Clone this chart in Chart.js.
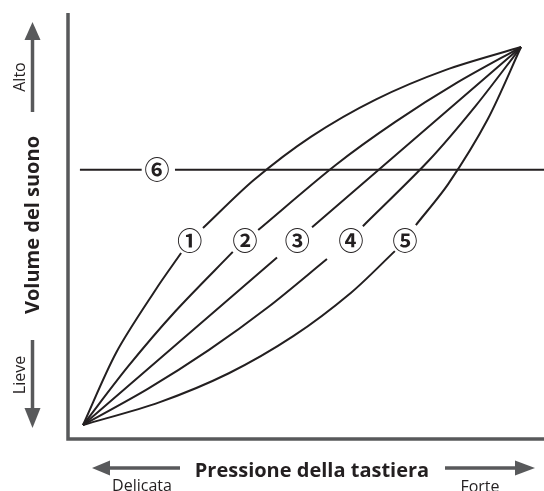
<!DOCTYPE html>
<html>
<head>
<meta charset="utf-8">
<script src="https://cdn.jsdelivr.net/npm/chart.js@4.4.1/dist/chart.umd.min.js"></script>
<style>
  html, body { margin: 0; padding: 0; background: #ffffff; }
  #wrap { width: 544px; height: 491px; }
</style>
</head>
<body>
<div id="wrap"><canvas id="curveChart" width="544" height="491"></canvas></div>
<script>
/***************** DATA *****************/
// pressione (x) / volume (y), 0..100 ; null = gap for the number label
const curva1X = [0, 7.6, 16.7, 22.4, 25.0, 27.4, 39.0, 52.1, 66.8, 82.7, 100];
const curva1Y = [0, 19.2, 36.0, 45.5, null, 52.1, 64.8, 76.3, 86.1, 93.9, 100];

const curva2X = [0, 10.3, 21.1, 34.2, 37.0, 40.0, 57.7, 71.3, 85.3, 100];
const curva2Y = [0, 15.5, 30.1, 45.8, null, 51.6, 68.8, 80.2, 90.5, 100];

const curva3X = [0, 44.3, 48.3, 52.3, 100];
const curva3Y = [0, 44.3, null, 52.3, 100];

const curva4X = [0, 14.7, 28.7, 42.3, 55.7, 60.0, 63.9, 78.9, 89.7, 100];
const curva4Y = [0, 9.5, 19.8, 31.2, 43.9, null, 52.6, 69.9, 84.5, 100];

const curva5X = [0, 17.4, 33.3, 48.0, 61.2, 71.2, 73.6, 76.0, 83.4, 92.4, 100];
const curva5Y = [0, 6.0, 13.7, 23.5, 35.0, 46.0, null, 52.9, 63.8, 80.9, 100];

const curva6X = [-0.7, 13.4, 17.0, 21.0, 105.25];
const curva6Y = [67.5, 67.5, null, 67.5, 67.5];

const etichette = ['①', '②', '③', '④', '⑤', '⑥'];
const etichetteX = [24.4, 37.0, 48.9, 61.2, 73.5, 16.9];
const etichetteY = [48.9, 48.9, 48.9, 48.9, 48.9, 67.5];

const titoloX = 'Pressione della tastiera';
const titoloY = 'Volume del suono';
const estremiX = ['Delicata', 'Forte'];
const estremiY = ['Alto', 'Lieve'];

/***************** STYLE *****************/
const lineColor = '#231f20';
const axisColor = '#58595b';
const fontFam = '"Open Sans", "Noto Sans", sans-serif';
Chart.defaults.font.family = fontFam;

function toPoints(xs, ys) {
    return xs.map((x, i) => ({ x: x, y: ys[i] }));
}

function curveDataset(xs, ys, tension) {
    return {
        data: toPoints(xs, ys),
        showLine: true,
        borderColor: lineColor,
        borderWidth: 2,
        pointRadius: 0,
        pointHoverRadius: 0,
        tension: tension,
        spanGaps: false
    };
}

function arrow(ctx, x1, y1, x2, y2, headLen, headHalf) {
    // shaft from (x1,y1) to the head base, head tip at (x2,y2)
    const ang = Math.atan2(y2 - y1, x2 - x1);
    const bx = x2 - Math.cos(ang) * headLen;
    const by = y2 - Math.sin(ang) * headLen;
    ctx.beginPath();
    ctx.moveTo(x1, y1);
    ctx.lineTo(bx, by);
    ctx.lineWidth = 3.5;
    ctx.strokeStyle = axisColor;
    ctx.stroke();
    ctx.beginPath();
    ctx.moveTo(x2, y2);
    ctx.lineTo(bx + Math.sin(ang) * headHalf, by - Math.cos(ang) * headHalf);
    ctx.lineTo(bx - Math.sin(ang) * headHalf, by + Math.cos(ang) * headHalf);
    ctx.closePath();
    ctx.fillStyle = axisColor;
    ctx.fill();
}

function rotatedText(ctx, text, x, y, font) {
    ctx.save();
    ctx.translate(x, y);
    ctx.rotate(-Math.PI / 2);
    ctx.font = font;
    ctx.textAlign = 'center';
    ctx.textBaseline = 'alphabetic';
    ctx.fillText(text, 0, 0);
    ctx.restore();
}

// frame, arrows and axis texts
const decorPlugin = {
    id: 'decor',
    beforeDatasetsDraw(chart) {
        const ctx = chart.ctx;
        const a = chart.chartArea;
        ctx.save();
        ctx.strokeStyle = axisColor;
        ctx.lineWidth = 3.5;
        ctx.lineCap = 'butt';
        ctx.beginPath();
        ctx.moveTo(a.left, a.top);
        ctx.lineTo(a.left, a.bottom);
        ctx.lineTo(a.right, a.bottom);
        ctx.stroke();

        arrow(ctx, 32.5, 112, 32.5, 22, 18, 8);
        arrow(ctx, 32.5, 340, 32.5, 428, 20, 8);
        arrow(ctx, 180, 468, 92, 468, 18, 7.5);
        arrow(ctx, 445, 468, 535, 468, 20, 7.5);

        ctx.fillStyle = lineColor;
        rotatedText(ctx, estremiY[0], 25, 77, '16px ' + fontFam);
        rotatedText(ctx, estremiY[1], 25, 375, '16px ' + fontFam);
        rotatedText(ctx, titoloY, 39, 225, 'bold 20px ' + fontFam);

        ctx.font = 'bold 20px ' + fontFam;
        ctx.textAlign = 'center';
        ctx.textBaseline = 'alphabetic';
        ctx.fillText(titoloX, 312, 477);
        ctx.font = '16px ' + fontFam;
        ctx.fillText(estremiX[0], 142, 491);
        ctx.fillText(estremiX[1], 480, 492);
        ctx.restore();
    }
};

// circled numbers on the curves
const labelPlugin = {
    id: 'numLabels',
    afterDatasetsDraw(chart) {
        const ctx = chart.ctx;
        const xs = chart.scales.x;
        const ys = chart.scales.y;
        ctx.save();
        ctx.fillStyle = lineColor;
        ctx.font = 'bold 25px "Noto Sans CJK JP", "DejaVu Sans", sans-serif';
        ctx.textAlign = 'center';
        ctx.textBaseline = 'middle';
        etichette.forEach((t, i) => {
            ctx.fillText(t, xs.getPixelForValue(etichetteX[i]), ys.getPixelForValue(etichetteY[i]));
        });
        ctx.restore();
    }
};

const datasets = [
    curveDataset(curva1X, curva1Y, 0.3),
    curveDataset(curva2X, curva2Y, 0.3),
    curveDataset(curva3X, curva3Y, 0),
    curveDataset(curva4X, curva4Y, 0.3),
    curveDataset(curva5X, curva5Y, 0.3),
    curveDataset(curva6X, curva6Y, 0)
];

const options = {
    responsive: false,
    animation: false,
    layout: {
        padding: { left: 68, top: 13, right: 0, bottom: 52 }
    },
    plugins: {
        legend: { display: false },
        tooltip: { enabled: false },
        title: { display: false }
    },
    scales: {
        x: { type: 'linear', display: false, min: -3.42, max: 105.25 },
        y: { type: 'linear', display: false, min: -3.70, max: 109.0 }
    }
};

const ctx = document.getElementById('curveChart').getContext('2d');
const myChart = new Chart(ctx, {
    type: 'scatter',
    data: { datasets: datasets },
    options: options,
    plugins: [decorPlugin, labelPlugin]
});
</script>
</body>
</html>
